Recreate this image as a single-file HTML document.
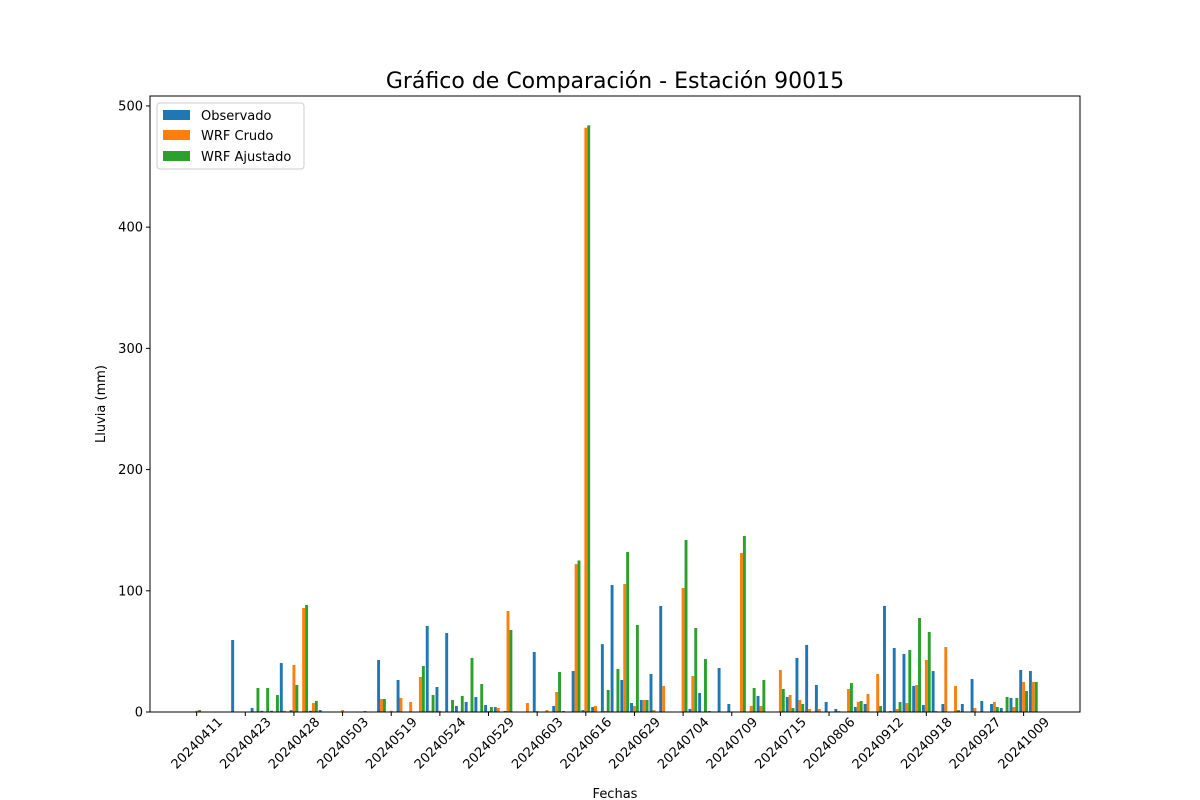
<!DOCTYPE html>
<html><head><meta charset="utf-8"><style>body{margin:0;background:#fff}svg{display:block;font-family:"DejaVu Sans","Liberation Sans",sans-serif}</style></head>
<body>
<svg id="chart" width="1200" height="800" xmlns="http://www.w3.org/2000/svg">
<text x="615" y="88" font-size="22" text-anchor="middle">Gráfico de Comparación - Estación 90015</text>
<text transform="translate(105,404) rotate(-90)" font-size="13" text-anchor="middle">Lluvia (mm)</text>
<text x="615" y="798" font-size="13" text-anchor="middle">Fechas</text>
<g id="bars"></g>
<g id="axes"></g>
<rect x="150" y="96" width="930" height="616" fill="none" stroke="#000" stroke-width="1"/>
<g>
<rect x="157" y="103" width="147" height="66" rx="3" fill="#fff" stroke="#ccc"/>
<rect x="163" y="110" width="27" height="10" fill="#1f77b4"/>
<text x="201" y="120" font-size="13">Observado</text>
<rect x="163" y="130" width="27" height="10" fill="#ff7f0e"/>
<text x="201" y="140" font-size="13">WRF Crudo</text>
<rect x="163" y="151" width="27" height="10" fill="#2ca02c"/>
<text x="201" y="161" font-size="13">WRF Ajustado</text>
</g>
</svg>
<script>
const tickLabels = ["20240411","20240423","20240428","20240503","20240519","20240524","20240529","20240603","20240616","20240629","20240704","20240709","20240715","20240806","20240912","20240918","20240927","20241009"];
const yTicks = [0,100,200,300,400,500];
const observado = [0,0,0,0,59.4, 0,3.3,1,1,40.4, 1.5,0,1,1.6,0, 0,0,0,0,42.9, 0,26.4,0,0,71, 20.6,65.2,5,8.3,12.4, 5.8,4.1,0.8,0,0, 49.5,0,5,0.8,33.8, 1.6,4.1,56,104.8,26.4, 7.4,9.9,31.4,87.5,0, 0,2.5,15.7,0.8,36.3, 6.6,0,0,13.2,0, 0,12.4,44.6,55.3,22.3, 8.3,2.5,0,4.1,6.6, 0,87.5,52.8,47.9,21.5, 5.8,33.8,6.6,0,6.6, 27.2,9.1,6.6,3.3,11.6, 34.7,33.8];
const wrfCrudo = [1,0,0,0,0, 0,0.5,0,0,1, 38.8,85.8,7.4,0,0, 1.6,0,0,0,10.7, 1,11.6,8.3,28.9,1, 1,0,0,0,0, 0.8,3.3,83.3,0,7.4, 0.8,1.6,16.5,0,122, 482,5,0.8,0,105.6, 5,9.9,1.6,21.5,0, 102.3,29.7,0,0,0, 0,131.2,5,5,0, 34.7,14,9.9,2.5,2.5, 0,0.8,19,8.3,14.9, 31.4,0,2.5,7.4,22.3, 42.9,0.8,53.6,21.5,0, 3.3,0,8.3,0,4.1, 24.8,24.8];
const wrfAjustado = [1.6,0,0,0,0, 0,19.8,19.8,14,0, 22.3,88.3,9.1,0,0, 0,0,0.8,0,10.7, 0,0,0,38,14, 0,9.9,13.2,44.6,23.1, 4.1,0,67.7,0,0, 0,0,33,0,125, 484,0,18.2,35.5,132, 71.8,9.9,0,0,0, 141.9,69.3,43.7,0,0, 0,145.2,19.8,26.4,0, 19,3.3,6.6,0,0, 0,0,23.9,9.1,0, 5,0.8,8.3,51.2,77.6, 66,0,0,1.6,0, 0,0,4.1,12.4,11.6, 17.3,24.8];

const NS='http://www.w3.org/2000/svg';
const n = observado.length;
const X0=150, X1=1080, Y0=712, Y1=96;
const xmin=-0.45-0.05*(n-1+0.9), xmax=(n-1)+0.45+0.05*(n-1+0.9);
const ymax=508.2;
function xs(i){return X0+(i-xmin)/(xmax-xmin)*(X1-X0);}
function ys(v){return Y0-v/ymax*(Y0-Y1);}
const bw=0.3;
const series=[{d:observado,c:'#1f77b4',o:-1,name:'observado'},{d:wrfCrudo,c:'#ff7f0e',o:0,name:'wrf-crudo'},{d:wrfAjustado,c:'#2ca02c',o:1,name:'wrf-ajustado'}];
const bars=document.getElementById('bars');
series.forEach(s=>{
  s.d.forEach((v,i)=>{
    const r=document.createElementNS(NS,'rect');
    const xl=xs(i+s.o*bw-bw/2), xr=xs(i+s.o*bw+bw/2);
    r.setAttribute('x',xl); r.setAttribute('width',xr-xl);
    r.setAttribute('y',ys(v)); r.setAttribute('height',Y0-ys(v));
    r.setAttribute('fill',s.c);
    
    
    bars.appendChild(r);
  });
});
const axes=document.getElementById('axes');
yTicks.forEach(t=>{
  const y=ys(t);
  const l=document.createElementNS(NS,'line');
  l.setAttribute('x1',X0-4); l.setAttribute('x2',X0); l.setAttribute('y1',y); l.setAttribute('y2',y); l.setAttribute('stroke','#000');
  
  
  axes.appendChild(l);
  const tx=document.createElementNS(NS,'text');
  tx.setAttribute('x',X0-7); tx.setAttribute('y',y+4.5); tx.setAttribute('font-size','13'); tx.setAttribute('text-anchor','end');
  tx.textContent=t;
  
  
  axes.appendChild(tx);
});
tickLabels.forEach((lab,k)=>{
  const i=k*5, x=xs(i);
  const l=document.createElementNS(NS,'line');
  l.setAttribute('x1',x); l.setAttribute('x2',x); l.setAttribute('y1',Y0); l.setAttribute('y2',Y0+4); l.setAttribute('stroke','#000');
  
  
  axes.appendChild(l);
  const tx=document.createElementNS(NS,'text');
  tx.setAttribute('transform','translate('+x+',743) rotate(-45)');
  tx.setAttribute('font-size','13'); tx.setAttribute('text-anchor','middle'); tx.setAttribute('dy','4.5');
  tx.textContent=lab;
  
  
  axes.appendChild(tx);
});
</script>
</body></html>
